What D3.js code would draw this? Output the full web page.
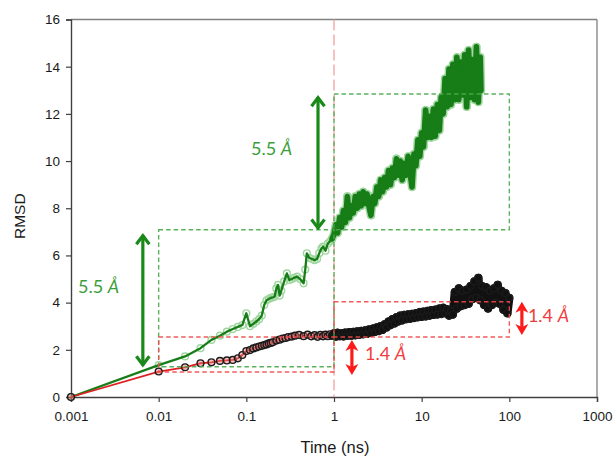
<!DOCTYPE html>
<html>
<head>
<meta charset="utf-8">
<script src="https://cdn.jsdelivr.net/npm/d3@7"></script>
<style>
  html, body { margin: 0; padding: 0; background: #fff; }
  svg { display: block; }
</style>
</head>
<body>
<svg id="chart" width="613" height="458"></svg>
<script>
// ---------- DATA ----------
const xTickValues = [0.001, 0.01, 0.1, 1, 10, 100, 1000];
const xTickLabels = ["0.001", "0.01", "0.1", "1", "10", "100", "1000"];
const yTickValues = [0, 2, 4, 6, 8, 10, 12, 14, 16];
const yTickLabels = ["0", "2", "4", "6", "8", "10", "12", "14", "16"];

// Green trajectory: time (ns) and RMSD (Å)
const greenTime = [0.001, 0.01, 0.02, 0.03, 0.04, 0.05, 0.06, 0.07, 0.08, 0.09,
  0.10, 0.11, 0.12, 0.13, 0.14, 0.15, 0.16, 0.17, 0.18, 0.19, 0.20, 0.21, 0.22, 0.23, 0.24, 0.25,
  0.27, 0.29, 0.31, 0.33, 0.35, 0.38, 0.41, 0.45, 0.47, 0.49, 0.52, 0.56, 0.60, 0.64, 0.68, 0.72,
  0.75, 0.80, 0.85, 0.90, 0.95,
  1.0, 1.05, 1.1, 1.16, 1.22, 1.28, 1.35, 1.42, 1.5, 1.58, 1.66, 1.75, 1.84, 1.94, 2.04, 2.15,
  2.26, 2.38, 2.5, 2.64, 2.78, 2.92, 3.08, 3.24, 3.41, 3.59, 3.78, 3.98, 4.19, 4.41, 4.64, 4.89,
  5.15, 5.42, 5.7, 6.0, 6.32, 6.65, 7.0, 7.37, 7.76, 8.17, 8.6, 9.05, 9.53, 10.0, 10.5, 11.1,
  11.7, 12.3, 12.9, 13.6, 14.3, 15.1, 15.9, 16.7, 17.6, 18.5, 19.5, 20.5, 21.6, 22.7, 23.9, 25.2,
  26.5, 27.9, 29.4, 30.9, 32.6, 34.3, 36.1, 38.0, 40.0, 42.1, 44.3, 46.6, 47.5];
const greenRmsd = [0, 1.35, 1.72, 2.07, 2.42, 2.6, 2.77, 2.88, 2.97, 3.05,
  3.55, 3.0, 3.1, 3.2, 3.3, 3.45, 3.9, 4.1, 4.15, 4.2, 4.22, 4.25, 4.6, 4.75, 4.3, 4.5,
  4.9, 5.24, 4.96, 5.0, 5.05, 5.1, 5.0, 4.82, 5.4, 6.09, 5.9, 5.85, 5.8, 5.85, 6.1, 6.3,
  6.37, 6.2, 6.5, 6.6, 6.7,
  6.9, 7.3, 6.95, 7.6, 7.2, 7.9, 7.4, 8.5, 7.6, 8.1, 7.8, 8.5, 8.0, 8.6, 8.1, 8.7,
  8.2, 8.6, 8.1, 7.7, 8.5, 8.2, 8.9, 8.5, 9.2, 8.7, 9.3, 8.9, 9.6, 9.0, 9.7, 9.3,
  10.1, 9.4, 10.0, 9.2, 9.9, 9.4, 10.2, 9.5, 8.9, 10.3, 9.8, 10.9, 10.2, 11.2, 10.6, 12.16,
  11.0, 11.9, 11.0, 12.2, 11.05, 12.4, 11.3, 12.7, 12.0, 13.5, 12.3, 13.9, 12.4, 14.1, 12.6, 14.4,
  12.6, 14.2, 12.8, 14.5, 12.3, 14.7, 12.7, 14.3, 12.6, 14.84, 12.5, 14.4, 13.0];

// Red/black trajectory: time (ns) and RMSD (Å)
const blackTime = [0.001, 0.01, 0.02, 0.03, 0.04, 0.05, 0.06, 0.07, 0.08, 0.09,
  0.10, 0.11, 0.12, 0.13, 0.14, 0.15, 0.16, 0.17, 0.18, 0.19, 0.20, 0.22, 0.24, 0.26, 0.28, 0.30,
  0.33, 0.36, 0.40, 0.45, 0.50, 0.55, 0.60, 0.65, 0.70, 0.75, 0.80, 0.85, 0.90, 0.95,
  1.0, 1.05, 1.1, 1.16, 1.22, 1.28, 1.35, 1.42, 1.5, 1.58, 1.66, 1.75, 1.84, 1.94, 2.04, 2.15,
  2.26, 2.38, 2.5, 2.64, 2.78, 2.92, 3.08, 3.24, 3.41, 3.59, 3.78, 3.98, 4.19, 4.41, 4.64, 4.89,
  5.15, 5.42, 5.7, 6.0, 6.32, 6.65, 7.0, 7.37, 7.76, 8.17, 8.6, 9.05, 9.53, 10.0, 10.5, 11.1,
  11.7, 12.3, 12.9, 13.6, 14.3, 15.1, 15.9, 16.7, 17.6, 18.5, 19.5, 20.5, 21.6, 22.7, 23.9, 25.2,
  26.5, 27.9, 29.4, 30.9, 32.6, 34.3, 36.1, 38.0, 40.0, 42.1, 44.3, 46.6, 49.0, 51.6, 54.3, 57.1,
  60.1, 63.2, 66.5, 70.0, 73.6, 77.4, 81.5, 85.7, 90.2, 94.9, 99.8];
const blackRmsd = [0, 1.08, 1.26, 1.43, 1.47, 1.53, 1.55, 1.57, 1.64, 1.78,
  1.95, 1.99, 2.06, 2.1, 2.14, 2.17, 2.2, 2.23, 2.27, 2.29, 2.32, 2.39, 2.43, 2.48, 2.5, 2.54,
  2.56, 2.6, 2.63, 2.58, 2.64, 2.57, 2.62, 2.55, 2.63, 2.57, 2.64, 2.58, 2.66, 2.6,
  2.7, 2.56, 2.72, 2.58, 2.7, 2.57, 2.73, 2.6, 2.75, 2.6, 2.76, 2.62, 2.78, 2.64, 2.8, 2.66,
  2.82, 2.68, 2.86, 2.72, 2.9, 2.76, 2.95, 2.8, 3.0, 2.85, 3.08, 2.95, 3.2, 3.05, 3.3, 3.12,
  3.38, 3.2, 3.45, 3.25, 3.48, 3.3, 3.5, 3.32, 3.52, 3.35, 3.55, 3.38, 3.6, 3.4, 3.62, 3.42,
  3.65, 3.45, 3.68, 3.48, 3.7, 3.5, 3.75, 3.52, 3.78, 3.55, 3.72, 3.45, 3.65, 3.5, 4.45, 3.75,
  4.6, 3.85, 4.5, 3.9, 4.55, 3.95, 4.7, 4.15, 4.9, 4.2, 5.05, 4.1, 4.7, 3.9, 4.65, 3.75,
  4.5, 3.9, 4.6, 4.0, 4.75, 3.95, 4.5, 3.7, 4.4, 3.55, 4.2];

// Dashed reference boxes [t0, t1, v0, v1]
const greenBoxes = [[0.01, 1, 1.28, 7.09], [1, 100, 7.09, 12.84]];
const redBoxes = [[0.01, 1, 1.06, 2.54], [1, 100, 2.54, 4.04]];
// Double arrows [t, vLow, vHigh]
const greenArrows = [[0.0066, 1.3, 6.9], [0.657, 7.1, 12.75]];
const redArrows = [[1.6, 0.93, 2.42], [139, 2.63, 4.04]];
// Labels [t, v, number]
const greenLabels = [[0.0012, 4.41, "5.5"], [0.113, 10.26, "5.5"]];
const redLabels = [[2.26, 1.57, "1.4"], [163, 3.18, "1.4"]];

// ---------- CHART ----------
const svg = d3.select("#chart");
const L = 71, R = 597, T = 19.5, B = 397;
const x = d3.scaleLog().domain([0.001, 1000]).range([L, R]);
const y = d3.scaleLinear().domain([0, 16]).range([B, T]);

const axisFont = "'Liberation Sans', Arial, sans-serif";
const annFont = "Lato, 'Open Sans', sans-serif";

// frame (top/right)
svg.append("line").attr("x1", L).attr("x2", R).attr("y1", T).attr("y2", T)
  .attr("stroke", "#808080").attr("stroke-width", 1.3);
svg.append("line").attr("x1", R).attr("x2", R).attr("y1", T).attr("y2", B)
  .attr("stroke", "#808080").attr("stroke-width", 1.3);

// axes
const xAxis = d3.axisBottom(x).tickValues(xTickValues)
  .tickFormat((d, i) => xTickLabels[i]).tickSizeOuter(0).tickSize(5).tickPadding(9);
const yAxis = d3.axisLeft(y).tickValues(yTickValues)
  .tickFormat((d, i) => yTickLabels[i]).tickSizeOuter(0).tickSize(5).tickPadding(6);

const gx = svg.append("g").attr("transform", `translate(0,${B})`).call(xAxis);
const gy = svg.append("g").attr("transform", `translate(${L},0)`).call(yAxis);
[gx, gy].forEach(g => {
  g.select(".domain").attr("stroke", "#404040").attr("stroke-width", 1.4);
  g.selectAll(".tick line").attr("stroke", "#404040").attr("stroke-width", 1.2);
  g.selectAll(".tick text").attr("fill", "#1a1a1a").style("font-family", axisFont).style("font-size", "13.5px");
});

// axis titles
svg.append("text").attr("x", 335).attr("y", 453).attr("text-anchor", "middle")
  .style("font-family", axisFont).style("font-size", "16.5px").attr("fill", "#1a1a1a").text("Time (ns)");
svg.append("text").attr("transform", `translate(25,${(T + B) / 2 + 8}) rotate(-90)`).attr("text-anchor", "middle")
  .style("font-family", axisFont).style("font-size", "15.5px").attr("fill", "#1a1a1a").text("RMSD");

// vertical dashed line at 1 ns
svg.append("line").attr("x1", x(1)).attr("x2", x(1)).attr("y1", T).attr("y2", B)
  .attr("stroke", "#f2a0a0").attr("stroke-width", 1.3).attr("stroke-dasharray", "11,4");

// series
const greenData = greenTime.map((t, i) => ({ t, v: greenRmsd[i] }));
const blackData = blackTime.map((t, i) => ({ t, v: blackRmsd[i] }));
const line = d3.line().x(d => x(d.t)).y(d => y(d.v));
const R_MARK = 3.4;

// green: swept marker halo in dense part, markers, then dark line on top
svg.append("path").datum(greenData.filter(d => d.t >= 0.95)).attr("d", line)
  .attr("fill", "none").attr("stroke", "#a3d8a3").attr("stroke-width", 2 * R_MARK + 1.6)
  .attr("stroke-linejoin", "round").attr("stroke-linecap", "round");
svg.append("g").selectAll("circle").data(greenData).join("circle")
  .attr("cx", d => x(d.t)).attr("cy", d => y(d.v)).attr("r", R_MARK)
  .attr("fill", "none").attr("stroke", "#9fd69f").attr("stroke-width", 1.4);
svg.append("path").datum(greenData.filter(d => d.t >= 0.95)).attr("d", line)
  .attr("fill", "none").attr("stroke", "#177d17").attr("stroke-width", 2 * R_MARK - 1.2)
  .attr("stroke-linejoin", "round").attr("stroke-linecap", "round");
svg.append("path").datum(greenData).attr("d", line)
  .attr("fill", "none").attr("stroke", "#177d17").attr("stroke-width", 2.3).attr("stroke-linejoin", "round");

// red line, swept black markers in dense part, then markers
svg.append("path").datum(blackData).attr("d", line)
  .attr("fill", "none").attr("stroke", "#e02020").attr("stroke-width", 1.8);
svg.append("path").datum(blackData.filter(d => d.t >= 0.95)).attr("d", line)
  .attr("fill", "none").attr("stroke", "#111").attr("stroke-width", 2 * R_MARK + 1.6)
  .attr("stroke-linejoin", "round").attr("stroke-linecap", "round");
svg.append("g").selectAll("circle").data(blackData).join("circle")
  .attr("cx", d => x(d.t)).attr("cy", d => y(d.v)).attr("r", R_MARK)
  .attr("fill", d => d.t < 0.95 ? "rgba(240,120,120,0.45)" : "#111")
  .attr("stroke", "#1a1a1a").attr("stroke-width", 1.4);

// dashed boxes
function drawBox(b, color) {
  const [t0, t1, v0, v1] = b;
  svg.append("rect").attr("x", x(t0)).attr("y", y(v1))
    .attr("width", x(t1) - x(t0)).attr("height", y(v0) - y(v1))
    .attr("fill", "none").attr("stroke", color).attr("stroke-width", 1.4)
    .attr("stroke-dasharray", "4.5,3").attr("opacity", 0.9);
}
greenBoxes.forEach(b => drawBox(b, "#4aa84a"));
redBoxes.forEach(b => drawBox(b, "#f04848"));

// green double arrows with open chevrons
const gc = "#1a891a";
greenArrows.forEach(([t, v0, v1]) => {
  const cx = x(t), ya = y(v1), yb = y(v0);
  svg.append("line").attr("x1", cx).attr("x2", cx).attr("y1", ya + 1).attr("y2", yb - 1)
    .attr("stroke", gc).attr("stroke-width", 3.2);
  svg.append("path").attr("d", `M${cx - 6.5},${ya + 10} L${cx},${ya + 1.5} L${cx + 6.5},${ya + 10}`)
    .attr("fill", "none").attr("stroke", gc).attr("stroke-width", 3.2).attr("stroke-linejoin", "miter");
  svg.append("path").attr("d", `M${cx - 6.5},${yb - 10} L${cx},${yb - 1.5} L${cx + 6.5},${yb - 10}`)
    .attr("fill", "none").attr("stroke", gc).attr("stroke-width", 3.2).attr("stroke-linejoin", "miter");
});

// red double arrows with filled heads
const rc = "#ff1a1a";
redArrows.forEach(([t, v0, v1]) => {
  const cx = x(t), ya = y(v1), yb = y(v0);
  svg.append("line").attr("x1", cx).attr("x2", cx).attr("y1", ya + 8).attr("y2", yb - 8)
    .attr("stroke", rc).attr("stroke-width", 3.2);
  svg.append("path").attr("d", `M${cx},${ya} L${cx + 6.5},${ya + 11} L${cx},${ya + 8} L${cx - 6.5},${ya + 11} Z`)
    .attr("fill", rc);
  svg.append("path").attr("d", `M${cx},${yb} L${cx + 6.5},${yb - 11} L${cx},${yb - 8} L${cx - 6.5},${yb - 11} Z`)
    .attr("fill", rc);
});

// labels
function label(lbl, color) {
  const [t, v, num] = lbl;
  const tx = svg.append("text").attr("x", x(t)).attr("y", y(v))
    .style("font-family", annFont).style("font-size", "18px").attr("fill", color);
  tx.append("tspan").text(num + " ");
  tx.append("tspan").style("font-style", "italic").text("Å");
}
greenLabels.forEach(l => label(l, "#3a9e3a"));
redLabels.forEach(l => label(l, "#f03c3c"));
</script>
</body>
</html>
